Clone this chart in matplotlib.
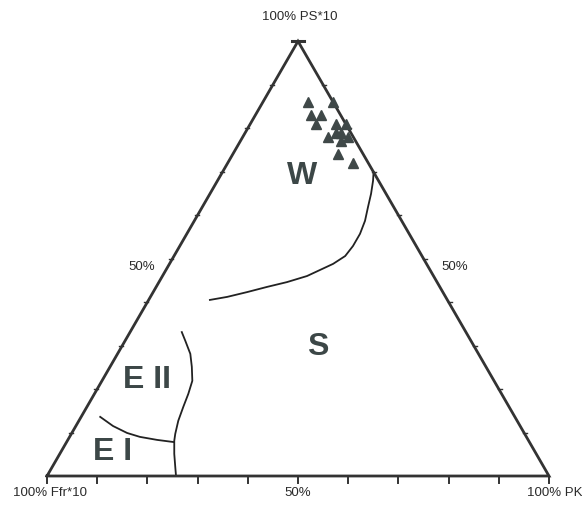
import numpy as np
import matplotlib
matplotlib.use("Agg")
import matplotlib.pyplot as plt

plt.rcParams['font.family'] = ['Liberation Sans', 'DejaVu Sans']

# Sample compositions (percent PS*10 and percent PK; Ffr*10 is the remainder)
sample_ps = [86, 86, 83, 83, 81, 81, 81, 78, 79, 79, 77, 78, 74, 72]
sample_pk = [9, 14, 11, 13, 13, 17, 19, 17, 18, 19, 20, 21, 21, 25]

# Field boundaries (percent PS*10, percent PK)
ws_ps = [69.9, 67.9, 64.9, 61.9, 58.7, 55.7, 52.9, 50.6, 48.8, 47.4, 46.0,
         44.6, 43.5, 42.3, 41.2, 40.5]
ws_pk = [30.1, 31.0, 32.1, 33.0, 34.0, 34.5, 34.5, 34.1, 32.6, 30.7, 28.8,
         25.5, 22.1, 18.7, 15.3, 12.2]

es_ps = [33.1, 31.1, 28.1, 25.1, 21.9, 18.9, 15.9, 12.7, 9.7, 8.1, 5.1, 2.1, 0]
es_pk = [10.3, 12.0, 14.5, 16.3, 18.0, 18.7, 19.2, 19.8, 20.7, 21.3, 22.8, 24.5, 25.7]

e12_ps = [13.6, 11.5, 9.9, 9.0, 8.3, 7.8]
e12_pk = [3.8, 7.4, 11.0, 14.0, 17.8, 21.4]

# Field names and where they sit
field_names = ['W', 'S', 'E II', 'E I']
field_ps = [69.3, 29.9, 22.3, 5.8]
field_pk = [16.2, 39.0, 8.8, 10.1]

tick_values = np.arange(0, 101, 10)

H = np.sqrt(3) / 2


def to_xy(ps, pk):
    ps = np.asarray(ps, dtype=float) / 100
    pk = np.asarray(pk, dtype=float) / 100
    return pk + ps / 2, ps * H


fig = plt.figure(figsize=(5.82, 5.06), dpi=100)
ax = fig.add_axes([0, 0, 1, 1])
ax.set_xlim(-47 / 502, (582 - 47) / 502)
ax.set_ylim(-(506 - 477) / 502, 477 / 502)
ax.axis('off')

edge = '#333333'
ink = '#3c4747'

# triangle frame
fx, fy = to_xy([0, 0, 100, 0], [0, 100, 0, 0])
ax.plot(fx, fy, color=edge, lw=2.0, solid_joinstyle='miter', zorder=3)

# ticks on the three sides
t = 0.006
for v in tick_values:
    x, y = to_xy(0, v)
    ax.plot([x, x], [y, y - 0.014], color=edge, lw=1.4)
    if 0 < v < 100:
        x, y = to_xy(v, 0)
        ax.plot([x - t, x + t * 0.3], [y, y], color=edge, lw=1.0)
        x, y = to_xy(v, 100 - v)
        ax.plot([x - t * 0.3, x + t], [y, y], color=edge, lw=1.0)
x, y = to_xy(100, 0)
ax.plot([x - 0.012, x + 0.012], [y, y], color=edge, lw=2.2)

# field boundaries
for ps, pk in [(ws_ps, ws_pk), (es_ps, es_pk), (e12_ps, e12_pk)]:
    x, y = to_xy(ps, pk)
    ax.plot(x, y, color='#222222', lw=1.3, zorder=2, solid_joinstyle='round')

# samples
x, y = to_xy(sample_ps, sample_pk)
ax.plot(x, y, '^', color='#3f4848', ms=7.5, mec='#3f4848', zorder=4)

# field names
for label, ps, pk in zip(field_names, field_ps, field_pk):
    x, y = to_xy(ps, pk)
    ax.text(x, y, label, fontsize=23, fontweight='bold', color=ink,
            ha='center', va='center')

# corner and axis labels
small = dict(fontsize=9.5, color='#2a2a2a', va='center')
ax.text(0.504, 0.916, '100% PS*10', ha='center', **small)
ax.text(0.189, 0.418, '50%', ha='center', **small)
ax.text(0.813, 0.418, '50%', ha='center', **small)
ax.text(0.006, -0.032, '100% Ffr*10', ha='center', **small)
ax.text(0.5, -0.032, '50%', ha='center', **small)
ax.text(1.012, -0.032, '100% PK', ha='center', **small)

fig.savefig('out.png', dpi=100)
